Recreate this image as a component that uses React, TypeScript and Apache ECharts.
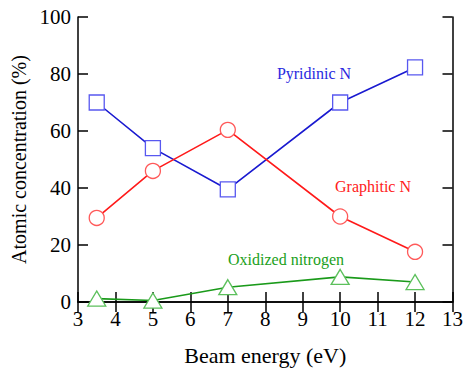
import React, { useEffect, useRef } from "react";
import * as echarts from "echarts";

const energies = [3.5, 5, 7, 10, 12];
const pyridinic = [70, 54, 39.5, 70, 82.3];
const graphitic = [29.5, 46, 60.4, 30, 17.6];
const oxidized = [1.2, 0.5, 5.2, 8.8, 7];

const FONT = "Liberation Serif";

function pairs(xs: number[], ys: number[]) {
  return xs.map((x, i) => [x, ys[i]]);
}

export default function App() {
  const ref = useRef<HTMLDivElement>(null);
  useEffect(() => {
    if (!ref.current) return;
    const chart = echarts.init(ref.current, undefined, { renderer: "svg" });
    const tickStyle = { show: true, inside: true, length: 10, lineStyle: { color: "#000", width: 1.5 } };
    const lineStyle = { color: "#000", width: 1.5 };
    chart.setOption({
      animation: false,
      backgroundColor: "#fff",
      textStyle: { fontFamily: FONT },
      grid: { left: 78, right: 10, top: 17, bottom: 70 },
      xAxis: [
        {
          type: "value",
          min: 3,
          max: 13,
          interval: 1,
          position: "bottom",
          axisLine: { show: true, lineStyle },
          axisTick: tickStyle,
          splitLine: { show: false },
          axisLabel: { color: "#000", fontFamily: FONT, fontSize: 21, margin: 6 },
          name: "Beam energy (eV)",
          nameLocation: "middle",
          nameGap: 42,
          nameTextStyle: { color: "#000", fontFamily: FONT, fontSize: 22 },
        },
        {
          type: "value",
          min: 3,
          max: 13,
          interval: 1,
          position: "top",
          axisLine: { show: true, lineStyle },
          axisTick: tickStyle,
          splitLine: { show: false },
          axisLabel: { show: false },
        },
      ],
      yAxis: [
        {
          type: "value",
          min: 0,
          max: 100,
          interval: 20,
          position: "left",
          axisLine: { show: true, lineStyle },
          axisTick: tickStyle,
          splitLine: { show: false },
          axisLabel: { color: "#000", fontFamily: FONT, fontSize: 21, margin: 7 },
          name: "Atomic concentration (%)",
          nameLocation: "middle",
          nameGap: 46,
          nameTextStyle: { color: "#000", fontFamily: FONT, fontSize: 20 },
        },
        {
          type: "value",
          min: 0,
          max: 100,
          interval: 20,
          position: "right",
          axisLine: { show: true, lineStyle },
          axisTick: tickStyle,
          splitLine: { show: false },
          axisLabel: { show: false },
        },
      ],
      series: [
        {
          name: "Pyridinic N",
          type: "line",
          data: pairs(energies, pyridinic),
          symbol: "rect",
          symbolSize: 15,
          lineStyle: { color: "#1a1ad0", width: 1.6 },
          itemStyle: { color: "#fff", borderColor: "#5858f0", borderWidth: 1.3 },
          z: 3,
        },
        {
          name: "Graphitic N",
          type: "line",
          data: pairs(energies, graphitic),
          symbol: "circle",
          symbolSize: 15,
          lineStyle: { color: "#ff1a1a", width: 1.6 },
          itemStyle: { color: "#fff", borderColor: "#ff5a5a", borderWidth: 1.3 },
          z: 3,
        },
        {
          name: "Oxidized nitrogen",
          type: "line",
          data: pairs(energies, oxidized),
          symbol: "triangle",
          symbolSize: [18, 15],
          lineStyle: { color: "#1a9a1a", width: 1.6 },
          itemStyle: { color: "#fff", borderColor: "#5cc05c", borderWidth: 1.3 },
          z: 3,
        },
      ],
      graphic: [
        {
          type: "text",
          x: 314,
          y: 73,
          style: { text: "Pyridinic N", fill: "#2828e0", fontFamily: FONT, fontSize: 16, align: "center", verticalAlign: "middle" },
        },
        {
          type: "text",
          x: 373,
          y: 186,
          style: { text: "Graphitic N", fill: "#ff2020", fontFamily: FONT, fontSize: 16, align: "center", verticalAlign: "middle" },
        },
        {
          type: "text",
          x: 286,
          y: 259,
          style: { text: "Oxidized nitrogen", fill: "#20a020", fontFamily: FONT, fontSize: 16, align: "center", verticalAlign: "middle" },
        },
      ],
    });
    return () => chart.dispose();
  }, []);
  return (
    <div style={{ position: "absolute", left: 0, top: 0, width: 466, height: 372, fontFamily: FONT }}>
      <div ref={ref} style={{ width: 466, height: 372 }} />
    </div>
  );
}
